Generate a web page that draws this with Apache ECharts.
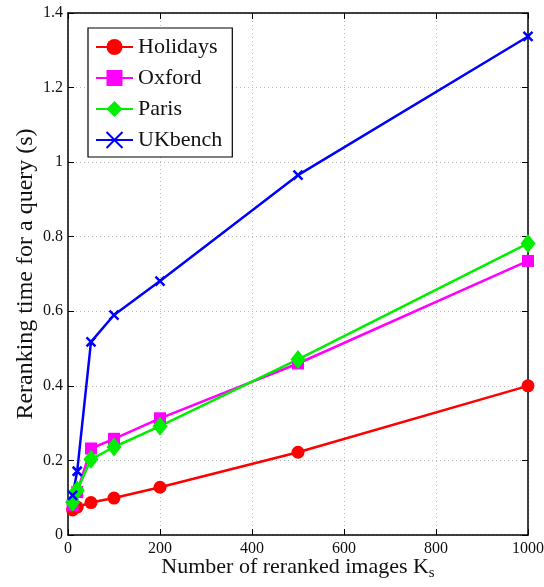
<!DOCTYPE html>
<html>
<head>
<meta charset="utf-8">
<script src="https://cdn.jsdelivr.net/npm/echarts@6/dist/echarts.min.js"></script>
<style>
    html, body { margin: 0; padding: 0; background: #fff; }
    #chart { width: 544px; height: 587px; }
</style>
</head>
<body>
<div id="chart"></div>
<script type="text/javascript">
    // 数据
    var ks = [10, 20, 50, 100, 200, 500, 1000];
    var holidays = [0.067, 0.075, 0.087, 0.099, 0.128, 0.222, 0.400];
    var oxford = [0.080, 0.115, 0.232, 0.258, 0.313, 0.460, 0.735];
    var paris = [0.088, 0.120, 0.203, 0.236, 0.292, 0.471, 0.782];
    var ukbench = [0.106, 0.171, 0.518, 0.590, 0.681, 0.965, 1.337];

    function pairs(ys) {
        var out = [];
        for (var i = 0; i < ks.length; i++) {
            out.push([ks[i], ys[i]]);
        }
        return out;
    }

    var serif = 'Liberation Serif';
    var crossPath = 'path://M0,0L10,10M10,0L0,10';

    var chart = echarts.init(document.getElementById('chart'));

    var gridLine = {show: true, lineStyle: {color: '#b8b8b8', type: [1, 3], width: 1}};
    var frame = {show: true, onZero: false, lineStyle: {color: '#000', width: 1.5}};
    var tick = {show: true, inside: true, length: 6, lineStyle: {color: '#000'}};

    var option = {
        animation: false,
        textStyle: {fontFamily: serif},
        grid: {left: 68, right: 16, top: 13, bottom: 52, outerBoundsMode: 'none'},
        legend: {
            orient: 'vertical',
            left: 88,
            top: 28,
            padding: [8, 10, 6, 7],
            itemGap: 9,
            itemWidth: 37,
            itemHeight: 20,
            borderColor: '#000',
            borderWidth: 1.2,
            backgroundColor: '#fff',
            textStyle: {fontFamily: serif, fontSize: 22, color: '#111'},
            data: ['Holidays', 'Oxford', 'Paris', 'UKbench']
        },
        xAxis: [{
            type: 'value',
            min: 0,
            max: 1000,
            interval: 200,
            name: 'Number of reranked images {sub|K}{s|s}',
            nameLocation: 'middle',
            nameGap: 19,
            nameMoveOverlap: false,
            nameTextStyle: {
                fontFamily: serif, fontSize: 22, color: '#111',
                rich: {
                    sub: {fontFamily: serif, fontSize: 22, color: '#111'},
                    s: {fontFamily: serif, fontSize: 15, color: '#111', padding: [12, 0, 0, 0]}
                }
            },
            axisLine: frame,
            axisTick: tick,
            axisLabel: {fontSize: 16, color: '#111', margin: 6, formatter: function (v) { return String(v); }},
            splitLine: gridLine
        }, {
            type: 'value',
            position: 'top',
            min: 0,
            max: 1000,
            interval: 200,
            axisLine: frame,
            axisTick: tick,
            axisLabel: {show: false},
            splitLine: {show: false}
        }],
        yAxis: [{
            type: 'value',
            min: 0,
            max: 1.4,
            interval: 0.2,
            name: 'Reranking time for a query (s)',
            nameLocation: 'middle',
            nameGap: 30,
            nameMoveOverlap: false,
            nameTextStyle: {fontFamily: serif, fontSize: 24, color: '#111'},
            axisLine: frame,
            axisTick: tick,
            axisLabel: {fontSize: 16, color: '#111', margin: 5},
            splitLine: gridLine
        }, {
            type: 'value',
            position: 'right',
            min: 0,
            max: 1.4,
            interval: 0.2,
            axisLine: frame,
            axisTick: tick,
            axisLabel: {show: false},
            splitLine: {show: false}
        }],
        series: [
            {
                name: 'Holidays', type: 'line', data: pairs(holidays),
                symbol: 'circle', symbolSize: 13,
                lineStyle: {color: '#ff0000', width: 2.5},
                itemStyle: {color: '#ff0000'}
            },
            {
                name: 'Oxford', type: 'line', data: pairs(oxford),
                symbol: 'rect', symbolSize: 12,
                lineStyle: {color: '#ff00ff', width: 2.5},
                itemStyle: {color: '#ff00ff'}
            },
            {
                name: 'Paris', type: 'line', data: pairs(paris),
                symbol: 'diamond', symbolSize: [15, 19],
                lineStyle: {color: '#00ee00', width: 2.5},
                itemStyle: {color: '#00ee00'}
            },
            {
                name: 'UKbench', type: 'line', data: pairs(ukbench),
                symbol: crossPath, symbolSize: 9,
                lineStyle: {color: '#0000ff', width: 2.5},
                itemStyle: {color: 'none', borderColor: '#0000ff', borderWidth: 2.5}
            }
        ]
    };

    chart.setOption(option);
</script>
</body>
</html>
